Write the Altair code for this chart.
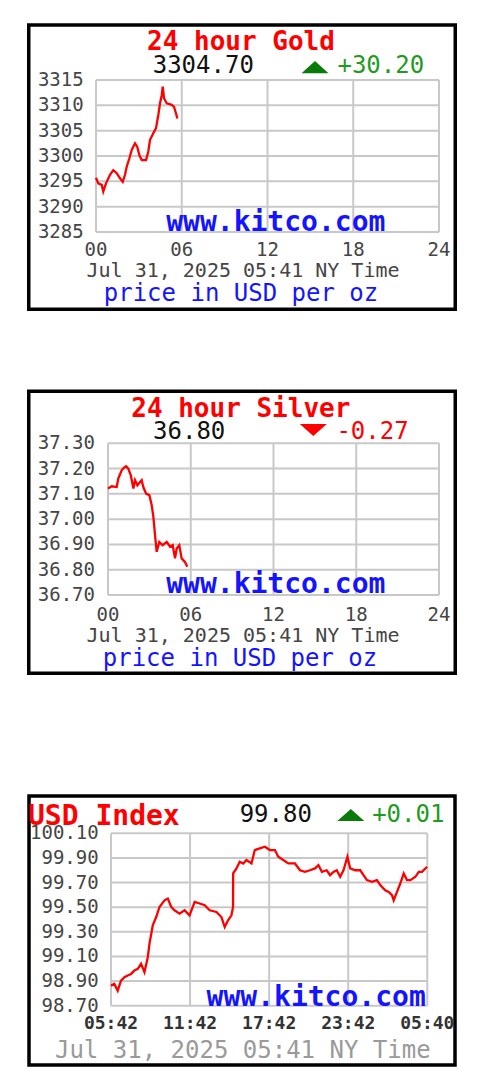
import altair as alt
import pandas as pd

FONT = "DejaVu Sans Mono"

# ---------------- data ----------------
gold_hours = [0.00, 0.16, 0.40, 0.51, 0.70, 0.98, 1.21, 1.45, 1.68, 1.87, 2.03, 2.15, 2.33, 2.50, 2.73,
              2.89, 3.03, 3.20, 3.50, 3.66, 3.78, 4.01, 4.20, 4.36, 4.48, 4.60, 4.67, 4.76, 4.95, 5.30,
              5.46, 5.60, 5.69]
gold_prices = [3295.7, 3294.6, 3294.3, 3293.0, 3294.6, 3296.3, 3297.2, 3296.6, 3295.6, 3294.9, 3296.3,
               3297.9, 3299.5, 3301.2, 3302.5, 3301.8, 3300.2, 3299.2, 3299.2, 3300.9, 3303.2, 3304.5,
               3305.5, 3308.1, 3310.4, 3312.0, 3313.7, 3311.4, 3310.4, 3310.1, 3309.7, 3308.4, 3307.4]

silver_hours = [0.00, 0.27, 0.63, 0.75, 0.99, 1.16, 1.31, 1.47, 1.65, 1.84, 1.96, 2.13, 2.32, 2.44, 2.56,
                2.76, 3.00, 3.17, 3.29, 3.41, 3.53, 3.72, 3.96, 4.26, 4.50, 4.69, 4.86, 4.98, 5.17, 5.34,
                5.58, 5.75]
silver_prices = [37.121, 37.130, 37.127, 37.161, 37.193, 37.204, 37.209, 37.200, 37.174, 37.121, 37.154,
                 37.134, 37.147, 37.154, 37.127, 37.101, 37.095, 37.055, 37.009, 36.937, 36.871, 36.910,
                 36.897, 36.910, 36.891, 36.897, 36.845, 36.884, 36.897, 36.845, 36.831, 36.812]

usd_hours = [0, 0.25, 0.51, 0.76, 1.02, 1.27, 1.52, 1.78, 2.03, 2.28, 2.54, 2.79, 2.92, 3.17, 3.43, 3.68,
             4.06, 4.31, 4.57, 4.82, 5.2, 5.58, 5.96, 6.35, 6.73, 7.11, 7.49, 8.0, 8.38, 8.63, 8.88, 9.14,
             9.26, 9.27, 9.52, 9.77, 10.03, 10.28, 10.66, 10.91, 11.29, 11.68, 12.06, 12.44, 12.69, 13.07,
             13.45, 13.96, 14.34, 14.72, 15.1, 15.48, 15.74, 16.0, 16.37, 16.62, 16.88, 17.13, 17.39,
             17.64, 17.94, 18.15, 18.53, 18.91, 19.16, 19.42, 19.8, 20.18, 20.43, 20.81, 21.07, 21.32,
             21.45, 21.7, 21.95, 22.21, 22.46, 22.72, 23.1, 23.35, 23.6, 23.98]
usd_values = [98.863, 98.877, 98.822, 98.904, 98.931, 98.945, 98.958, 98.986, 98.999, 99.04, 98.972,
              99.094, 99.203, 99.352, 99.42, 99.502, 99.556, 99.57, 99.502, 99.475, 99.448, 99.475,
              99.434, 99.543, 99.53, 99.516, 99.475, 99.461, 99.42, 99.339, 99.393, 99.434, 99.502,
              99.774, 99.815, 99.869, 99.855, 99.883, 99.855, 99.964, 99.978, 99.991, 99.964, 99.964,
              99.91, 99.883, 99.855, 99.855, 99.8, 99.787, 99.8, 99.815, 99.842, 99.787, 99.8, 99.76,
              99.787, 99.8, 99.747, 99.8, 99.91, 99.815, 99.8, 99.8, 99.76, 99.72, 99.706, 99.72,
              99.679, 99.638, 99.624, 99.597, 99.556, 99.624, 99.692, 99.774, 99.72, 99.72, 99.747,
              99.787, 99.787, 99.828]

hour_ticks = [0, 6, 12, 18, 24]
hour_labels = ["00", "06", "12", "18", "24"]

gold_yticks = [3285, 3290, 3295, 3300, 3305, 3310, 3315]
gold_ylabels = ["3285", "3290", "3295", "3300", "3305", "3310", "3315"]

silver_yticks = [36.70, 36.80, 36.90, 37.00, 37.10, 37.20, 37.30]
silver_ylabels = ["36.70", "36.80", "36.90", "37.00", "37.10", "37.20", "37.30"]

usd_yticks = [98.70, 98.90, 99.10, 99.30, 99.50, 99.70, 99.90, 100.10]
usd_ylabels = ["98.70", "98.90", "99.10", "99.30", "99.50", "99.70", "99.90", "100.10"]
usd_xticks = [0, 6, 12, 18, 24]
usd_xlabels = ["05:42", "11:42", "17:42", "23:42", "05:40"]

gold_title, gold_last, gold_change = "24 hour Gold", "3304.70", "+30.20"
silver_title, silver_last, silver_change = "24 hour Silver", "36.80", "-0.27"
usd_title, usd_last, usd_change = "USD Index", "99.80", "+0.01"
date_text = "Jul 31, 2025 05:41 NY Time"
unit_text = "price in USD per oz"
site_text = "www.kitco.com"

RED = "#ff0000"
GREEN_TRI = "#0a7a0a"
GREEN_TXT = "#1f9c1f"
BLUE = "#1414ff"
GRID = "#c8c8c8"
TICK = "#454545"

UP = "M-1,0.45L1,0.45L0,-0.45Z"
DOWN = "M-1,-0.45L1,-0.45L0,0.45Z"


def text_layer(t, x, y, size, color, weight="normal", align="center", baseline="alphabetic"):
    return alt.Chart(pd.DataFrame({"t": [t]})).mark_text(
        font=FONT, fontSize=size, fontWeight=weight, color=color, align=align, baseline=baseline
    ).encode(x=alt.value(x), y=alt.value(y), text="t:N")


def panel(hours, vals, xdom, xr, ydom, yr, xticks, xlabels, yticks, ylabels,
          box, ylab_x, xlab_y, xlab_size, xlab_weight, xlab_color):
    xs = alt.Scale(domain=xdom, range=xr, nice=False, zero=False)
    ys = alt.Scale(domain=ydom, range=yr, nice=False, zero=False)
    layers = []
    x0, x1, y0, y1 = box
    layers.append(
        alt.Chart(pd.DataFrame({"k": [0]})).mark_rect(fill="white", stroke="black", strokeWidth=3.5)
        .encode(x=alt.value(x0), x2=alt.value(x1), y=alt.value(y0), y2=alt.value(y1))
    )
    layers.append(
        alt.Chart(pd.DataFrame({"v": yticks})).mark_rule(color=GRID, strokeWidth=2)
        .encode(y=alt.Y("v:Q", scale=ys, axis=None), x=alt.value(xr[0]), x2=alt.value(xr[1]))
    )
    layers.append(
        alt.Chart(pd.DataFrame({"h": xticks})).mark_rule(color=GRID, strokeWidth=2)
        .encode(x=alt.X("h:Q", scale=xs, axis=None), y=alt.value(yr[1]), y2=alt.value(yr[0]))
    )
    layers.append(
        alt.Chart(pd.DataFrame({"v": yticks, "lab": ylabels})).mark_text(
            font=FONT, fontSize=19, color=TICK, align="right", baseline="middle")
        .encode(y=alt.Y("v:Q", scale=ys, axis=None), x=alt.value(ylab_x), text="lab:N")
    )
    layers.append(
        alt.Chart(pd.DataFrame({"h": xticks, "lab": xlabels})).mark_text(
            font=FONT, fontSize=xlab_size, fontWeight=xlab_weight, color=xlab_color,
            align="center", baseline="middle")
        .encode(x=alt.X("h:Q", scale=xs, axis=None), y=alt.value(xlab_y), text="lab:N")
    )
    layers.append(
        alt.Chart(pd.DataFrame({"h": hours, "p": vals})).mark_line(color=RED, strokeWidth=2.3)
        .encode(x=alt.X("h:Q", scale=xs, axis=None), y=alt.Y("p:Q", scale=ys, axis=None))
    )
    return layers


def tri(shape, x, y, color):
    return alt.Chart(pd.DataFrame({"k": [0]})).mark_point(
        shape=shape, filled=True, fill=color, size=729, strokeWidth=0, opacity=1
    ).encode(x=alt.value(x), y=alt.value(y))


layers = []

# ---------- Gold ----------
layers += panel(gold_hours, gold_prices, [0, 24], [88, 431], [3285, 3315], [224, 72],
                hour_ticks, hour_labels, gold_yticks, gold_ylabels,
                (20.75, 447.25, 17, 301.25), 75.7, 242, 19, "normal", TICK)
layers += [
    text_layer(site_text, 267.8, 222.5, 28, BLUE, "bold"),
    text_layer(gold_title, 233, 42.2, 26, RED, "bold"),
    text_layer(gold_last, 195.3, 65, 24, "#111111"),
    tri(UP, 307, 59.2, GREEN_TRI),
    text_layer(gold_change, 372.8, 65, 24, GREEN_TXT),
    text_layer(date_text, 235, 269, 20, TICK),
    text_layer(unit_text, 233, 293, 24, BLUE),
]

# ---------- Silver ----------
layers += panel(silver_hours, silver_prices, [0, 24], [100, 431], [36.70, 37.30], [587, 435.3],
                hour_ticks, hour_labels, silver_yticks, silver_ylabels,
                (20.75, 447.25, 383.25, 665.25), 87, 607, 19, "normal", TICK)
layers += [
    text_layer(site_text, 267.8, 585.3, 28, BLUE, "bold"),
    text_layer(silver_title, 232.8, 408.8, 26, RED, "bold"),
    text_layer(silver_last, 181.2, 431.3, 24, "#111111"),
    tri(DOWN, 305.3, 422, RED),
    text_layer(silver_change, 364.5, 431.3, 24, RED),
    text_layer(date_text, 235, 633.7, 20, TICK),
    text_layer(unit_text, 232, 658, 24, BLUE),
]

# ---------- USD Index ----------
layers += panel(usd_hours, usd_values, [0, 24], [103, 419.3], [98.70, 100.10], [997.7, 825.3],
                usd_xticks, usd_xlabels, usd_yticks, usd_ylabels,
                (21, 447, 788, 1057), 90.7, 1016.2, 18, "bold", "#333333")
layers += [
    text_layer(site_text, 308.2, 998, 28, BLUE, "bold"),
    text_layer(usd_title, 20, 817, 28, RED, "bold", align="left"),
    text_layer(usd_last, 267.8, 813.7, 24, "#111111"),
    tri(UP, 342.8, 807, GREEN_TRI),
    text_layer(usd_change, 400.3, 813.7, 24, GREEN_TXT),
    text_layer(date_text, 234.8, 1050.3, 24, "#9a9a9a"),
]

chart = alt.layer(*layers).resolve_scale(x="independent", y="independent").properties(
    width=482, height=1067, autosize=alt.AutoSizeParams(type="none"), padding=0,
    background="white"
).configure_view(stroke=None)

chart.save("out.html", embed_options={"renderer": "svg", "actions": False})
